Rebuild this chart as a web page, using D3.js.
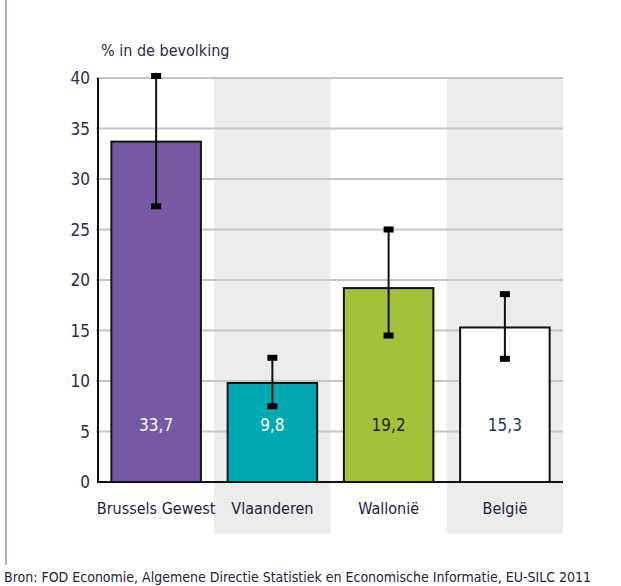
<!DOCTYPE html>
<html>
<head>
<meta charset="utf-8">
<script src="https://cdn.jsdelivr.net/npm/d3@7"></script>
<style>
  body { margin: 0; background: #fff; }
  text { font-family: "Liberation Sans Narrow", "DejaVu Sans Condensed", "Roboto", sans-serif; }
</style>
</head>
<body>
<svg id="chart" width="621" height="586"></svg>
<script>
const regions = ['Brussels Gewest', 'Vlaanderen', 'Wallonië', 'België'];
const values = [33.7, 9.8, 19.2, 15.3];
const lower = [27.3, 7.5, 14.5, 12.2];
const upper = [40.2, 12.3, 25.0, 18.6];
const yTicks = [0, 5, 10, 15, 20, 25, 30, 35, 40];
const barColors = ['#7759a3', '#00a9b2', '#a3c13b', '#ffffff'];
const labelColors = ['#ffffff', '#ffffff', '#2a1e10', '#1f3550'];

const svg = d3.select('#chart');
const plotLeft = 98, plotRight = 563, plotTop = 78, plotBottom = 482;

const x = d3.scaleBand().domain(regions).range([plotLeft, plotRight]).paddingInner(0).paddingOuter(0);
const y = d3.scaleLinear().domain([0, 40]).range([plotBottom, plotTop]);
const barW = x.bandwidth() * 0.77;

// left page border
svg.append('line')
  .attr('x1', 6).attr('x2', 6).attr('y1', 0).attr('y2', 565)
  .attr('stroke', '#a9b3c6').attr('stroke-width', 2);

// alternating shaded bands
svg.append('g').selectAll('rect')
  .data(regions.filter((d, i) => i % 2 === 1))
  .enter().append('rect')
  .attr('x', d => x(d))
  .attr('y', plotTop)
  .attr('width', x.bandwidth())
  .attr('height', 534 - plotTop)
  .attr('fill', '#ececec');

// gridlines
svg.append('g').selectAll('line')
  .data(yTicks.filter(t => t > 0))
  .enter().append('line')
  .attr('x1', plotLeft - 2).attr('x2', plotRight)
  .attr('y1', d => y(d)).attr('y2', d => y(d))
  .attr('stroke', '#c6c6c6').attr('stroke-width', 2);

// y axis
const yAxis = svg.append('g')
  .attr('transform', `translate(${plotLeft},0)`)
  .call(d3.axisLeft(y).tickValues(yTicks).tickSize(0).tickPadding(8));
yAxis.select('.domain').remove();
yAxis.selectAll('text')
  .attr('font-size', 17)
  .attr('fill', '#2b2a48')
  .attr('dy', '0.35em');
svg.append('line')
  .attr('x1', plotLeft).attr('x2', plotLeft).attr('y1', plotTop).attr('y2', plotBottom)
  .attr('stroke', '#111').attr('stroke-width', 2);

// bars
svg.append('g').selectAll('rect')
  .data(regions)
  .enter().append('rect')
  .attr('x', d => x(d) + (x.bandwidth() - barW) / 2)
  .attr('y', (d, i) => y(values[i]))
  .attr('width', barW)
  .attr('height', (d, i) => plotBottom - y(values[i]))
  .attr('fill', (d, i) => barColors[i])
  .attr('stroke', '#111')
  .attr('stroke-width', 2);

// x axis line
svg.append('line')
  .attr('x1', plotLeft - 1).attr('x2', plotRight).attr('y1', plotBottom).attr('y2', plotBottom)
  .attr('stroke', '#111').attr('stroke-width', 2);

// error bars
const err = svg.append('g');
regions.forEach((d, i) => {
  const cx = x(d) + x.bandwidth() / 2;
  err.append('line')
    .attr('x1', cx).attr('x2', cx)
    .attr('y1', y(upper[i])).attr('y2', y(lower[i]))
    .attr('stroke', '#111').attr('stroke-width', 2);
  [upper[i], lower[i]].forEach(v => {
    err.append('rect')
      .attr('x', cx - 5).attr('y', y(v) - 3)
      .attr('width', 10).attr('height', 6)
      .attr('fill', '#000');
  });
});

// value labels
svg.append('g').selectAll('text')
  .data(regions)
  .enter().append('text')
  .attr('x', d => x(d) + x.bandwidth() / 2)
  .attr('y', 425)
  .attr('dy', '0.35em')
  .attr('text-anchor', 'middle')
  .attr('font-size', 17)
  .attr('fill', (d, i) => labelColors[i])
  .text((d, i) => d3.format('.1f')(values[i]).replace('.', ','));

// category labels
svg.append('g').selectAll('text')
  .data(regions)
  .enter().append('text')
  .attr('x', d => x(d) + x.bandwidth() / 2)
  .attr('y', 508)
  .attr('dy', '0.35em')
  .attr('text-anchor', 'middle')
  .attr('font-size', 16)
  .attr('fill', '#23223f')
  .text(d => d);

// axis title
svg.append('text')
  .attr('x', 101).attr('y', 50)
  .attr('dy', '0.35em')
  .attr('font-size', 16)
  .attr('fill', '#2b2a48')
  .text('% in de bevolking');

// source
svg.append('text')
  .attr('x', 4).attr('y', 577)
  .attr('dy', '0.35em')
  .attr('font-size', 14)
  .attr('fill', '#1d2440')
  .text('Bron: FOD Economie, Algemene Directie Statistiek en Economische Informatie, EU-SILC 2011');
</script>
</body>
</html>
